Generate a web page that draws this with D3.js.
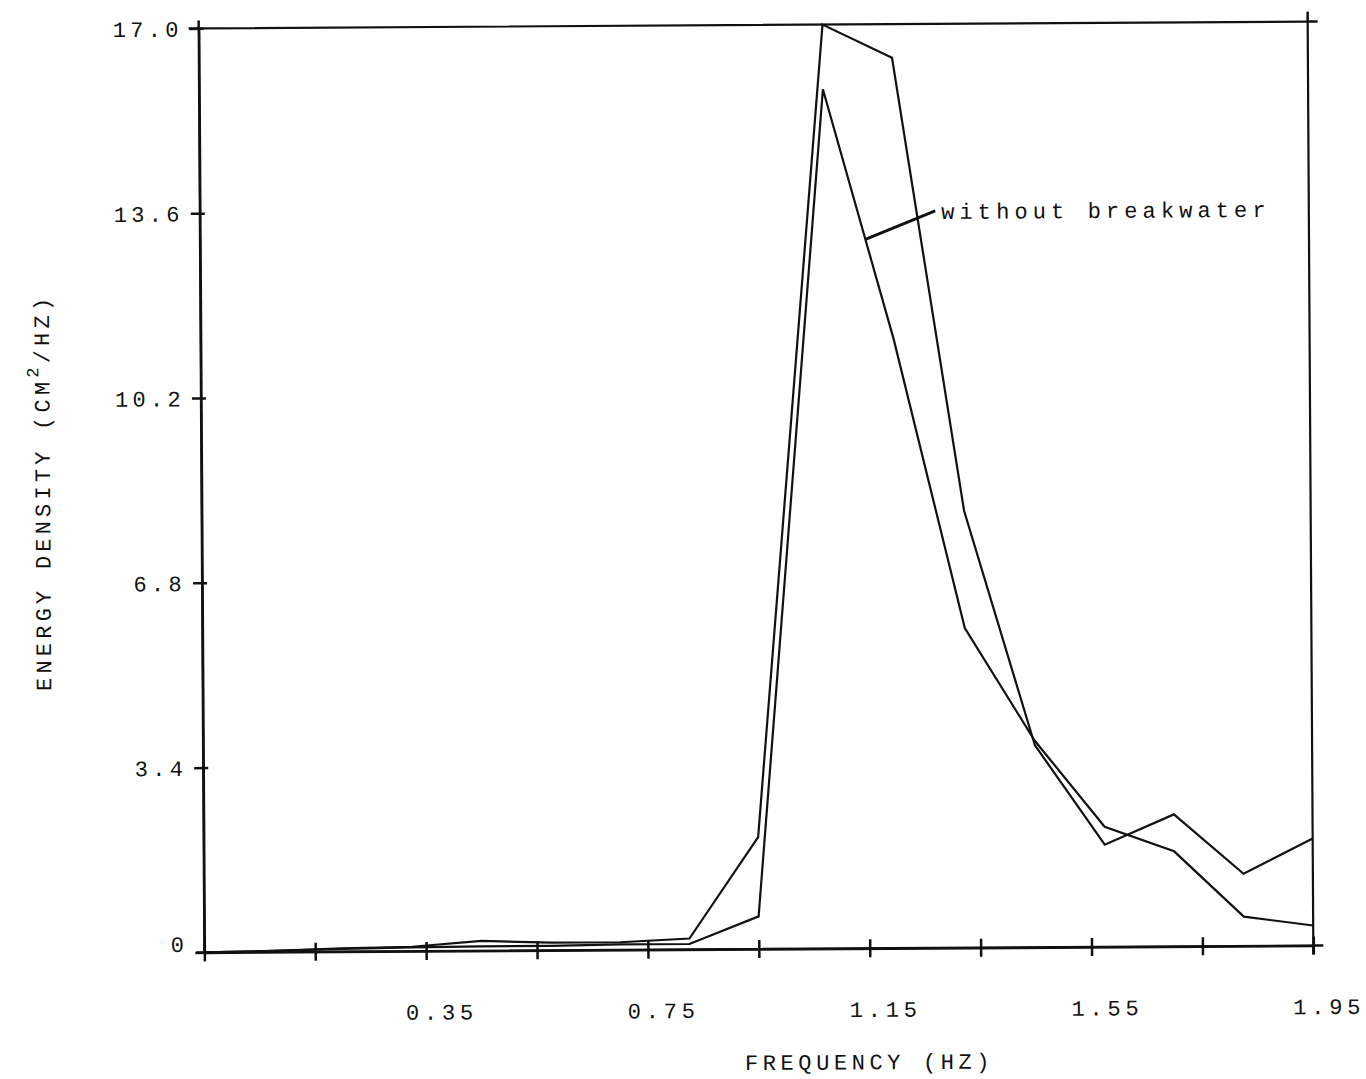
<!DOCTYPE html>
<html>
<head>
<meta charset="utf-8">
<script src="https://cdn.jsdelivr.net/npm/d3@7"></script>
<style>
  html, body { margin: 0; padding: 0; background: #fff; }
  svg { display: block; }
  text { font-family: "Liberation Mono", "DejaVu Sans Mono", monospace; fill: #111; }
</style>
</head>
<body>
<div id="container"></div>
<script>
const w = 1366;
const h = 1079;

// frequency points (Hz) and the two spectra (cm^2/Hz)
const freqs = [-0.05, 0.075, 0.2, 0.325, 0.45, 0.575, 0.7, 0.825, 0.95, 1.075, 1.2, 1.325, 1.45, 1.575, 1.7, 1.825, 1.95];
const otherSeries = [0, 0.02, 0.06, 0.08, 0.18, 0.14, 0.14, 0.2, 2.06, 17.0, 16.38, 8.04, 3.72, 1.88, 2.43, 1.33, 1.97];
const withoutBreakwater = [0, 0.02, 0.05, 0.07, 0.08, 0.08, 0.1, 0.1, 0.6, 15.81, 11.2, 5.88, 3.8, 2.21, 1.75, 0.54, 0.37];

const xTicks = [-0.05, 0.15, 0.35, 0.55, 0.75, 0.95, 1.15, 1.35, 1.55, 1.75, 1.95];
const xLabels = [0.35, 0.75, 1.15, 1.55, 1.95];
const yTicks = [0, 3.4, 6.8, 10.2, 13.6, 17.0];

const annotationText = "without breakwater";
const annotationFreq = 1.15;

const padLeft = 201.5, padRight = 1310.5, padTop = 25, padBottom = 949;

const svg = d3.select('#container')
    .append('svg')
    .attr('width', w)
    .attr('height', h);

// the scanned figure is slightly tilted
const g = svg.append('g')
    .attr('transform', 'rotate(-0.35, 756, 487)');

const x = d3.scaleLinear().domain([-0.05, 1.95]).range([padLeft, padRight]);
const y = d3.scaleLinear().domain([0, 17]).range([padBottom, padTop]);

// frame
g.append('rect')
    .attr('x', padLeft).attr('y', padTop)
    .attr('width', padRight - padLeft).attr('height', padBottom - padTop)
    .attr('fill', 'none')
    .attr('stroke', '#111')
    .attr('stroke-width', 2.2);

// corner crosses
const corners = [
    {cx: padLeft, cy: padTop, h0: -10, h1: 0, v0: -8, v1: 0},
    {cx: padRight, cy: padTop, h0: 0, h1: 10, v0: -10, v1: 0},
    {cx: padRight, cy: padBottom, h0: 0, h1: 10, v0: 0, v1: 9},
    {cx: padLeft, cy: padBottom, h0: -8, h1: 0, v0: 0, v1: 0}
];
g.selectAll('.corner')
    .data(corners)
    .enter()
    .append('path')
    .attr('class', 'corner')
    .attr('d', d => `M${d.cx + d.h0},${d.cy}H${d.cx + d.h1}M${d.cx},${d.cy + d.v0}V${d.cy + d.v1}`)
    .attr('stroke', '#111')
    .attr('stroke-width', 2.5)
    .attr('fill', 'none');

// x axis
const axisX = d3.axisBottom(x)
    .tickValues(xTicks)
    .tickSize(9)
    .tickSizeOuter(0)
    .tickPadding(44)
    .tickFormat(d => xLabels.some(v => Math.abs(v - d) < 1e-9) ? d.toFixed(2) : '');

const gx = g.append('g')
    .attr('id', 'x-axis')
    .attr('transform', `translate(0,${padBottom})`)
    .call(axisX);
gx.select('.domain').attr('stroke', '#111').attr('stroke-width', 2.5);
gx.selectAll('.tick line').attr('y1', -9).attr('stroke', '#111').attr('stroke-width', 2.5);
gx.selectAll('.tick text')
    .attr('x', 15)
    .attr('font-size', 22)
    .attr('letter-spacing', 4.8)
    .attr('fill', '#111');

// y axis
const axisY = d3.axisLeft(y)
    .tickValues(yTicks)
    .tickSize(9)
    .tickSizeOuter(0)
    .tickPadding(7)
    .tickFormat(d => d === 0 ? '0' : d.toFixed(1));

const gy = g.append('g')
    .attr('id', 'y-axis')
    .attr('transform', `translate(${padLeft},0)`)
    .call(axisY);
gy.select('.domain').attr('stroke', '#111').attr('stroke-width', 2.5);
gy.selectAll('.tick line').attr('x1', 5).attr('stroke', '#111').attr('stroke-width', 2.5);
gy.selectAll('.tick text')
    .attr('font-size', 22)
    .attr('letter-spacing', 4.3)
    .attr('fill', '#111')
    .attr('dy', d => d === 0 ? '-0.05em' : '0.35em');

// spectra
const line = d3.line()
    .x((d, i) => x(freqs[i]))
    .y(d => y(d));

[otherSeries, withoutBreakwater].forEach(s => {
    g.append('path')
        .datum(s)
        .attr('d', line)
        .attr('fill', 'none')
        .attr('stroke', '#111')
        .attr('stroke-width', 2.2)
        .attr('stroke-linejoin', 'miter');
});

// annotation on the "without breakwater" curve
const i0 = d3.bisectRight(freqs, annotationFreq) - 1;
const t = (annotationFreq - freqs[i0]) / (freqs[i0 + 1] - freqs[i0]);
const annValue = withoutBreakwater[i0] + t * (withoutBreakwater[i0 + 1] - withoutBreakwater[i0]);
const ax = x(annotationFreq), ay = y(annValue);

g.append('line')
    .attr('x1', ax).attr('y1', ay)
    .attr('x2', ax + 70).attr('y2', ay - 28)
    .attr('stroke', '#111')
    .attr('stroke-width', 2.8);

g.append('text')
    .attr('x', ax + 76)
    .attr('y', ay - 20)
    .attr('font-size', 22)
    .attr('letter-spacing', 5.1)
    .text(annotationText);

// axis titles
g.append('text')
    .attr('x', 866)
    .attr('y', 1070)
    .attr('text-anchor', 'middle')
    .attr('font-size', 22)
    .attr('letter-spacing', 4.6)
    .text('FREQUENCY (HZ)');

const yTitle = g.append('text')
    .attr('transform', 'translate(50,488) rotate(-90)')
    .attr('text-anchor', 'middle')
    .attr('font-size', 22)
    .attr('letter-spacing', 4.2);
yTitle.append('tspan').text('ENERGY DENSITY (CM');
yTitle.append('tspan').attr('dy', -11).attr('font-size', 17).text('2');
yTitle.append('tspan').attr('dy', 11).text('/HZ)');
</script>
</body>
</html>
